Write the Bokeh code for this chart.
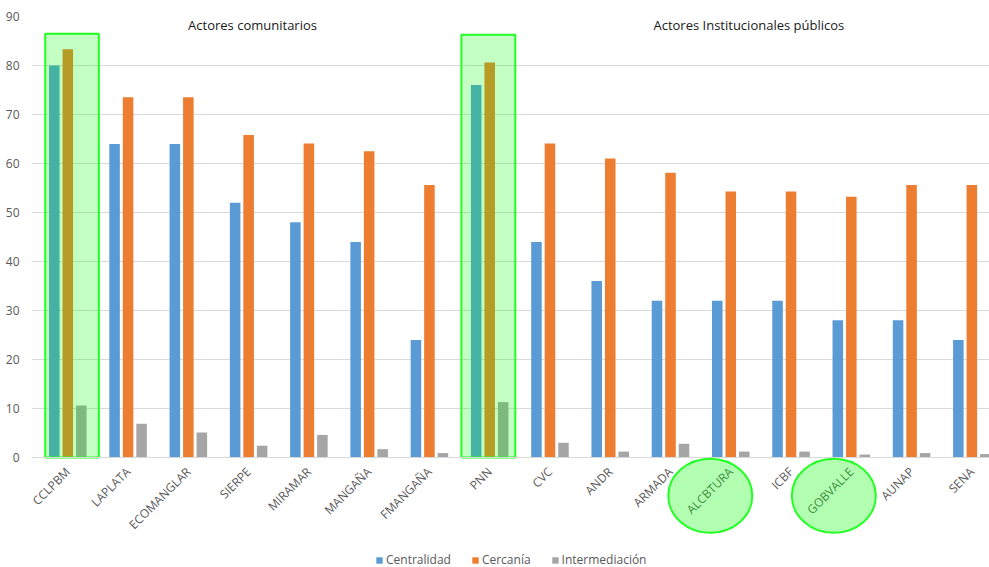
from math import pi
from bokeh.plotting import figure
from bokeh.models import (ColumnDataSource, Range1d, FixedTicker, Legend, LegendItem,
                          Label)
from bokeh.transform import dodge
from bokeh.embed import file_html
from bokeh.resources import INLINE

# ---------------- data ----------------
actors = ["CCLPBM", "LAPLATA", "ECOMANGLAR", "SIERPE", "MIRAMAR", "MANGAÑA", "FMANGAÑA",
          "PNN", "CVC", "ANDR", "ARMADA", "ALCBTURA", "ICBF", "GOBVALLE", "AUNAP", "SENA"]
centralidad = [80, 64, 64, 52, 48, 44, 24, 76, 44, 36, 32, 32, 32, 28, 28, 24]
cercania = [83.3, 73.5, 73.5, 65.8, 64.1, 62.5, 55.6, 80.6, 64.1, 61.0, 58.1, 54.3, 54.3,
            53.2, 55.6, 55.6]
intermediacion = [10.6, 6.9, 5.1, 2.4, 4.6, 1.7, 0.9, 11.3, 3.0, 1.2, 2.8, 1.2, 1.2, 0.6,
                  0.9, 0.7]
series_names = ["Centralidad", "Cercanía", "Intermediación"]
group_titles = ["Actores comunitarios", "Actores Institucionales públicos"]
highlight_boxes = ["CCLPBM", "PNN"]
highlight_labels = ["ALCBTURA", "GOBVALLE"]
y_ticks = [0, 10, 20, 30, 40, 50, 60, 70, 80, 90]

# ---------------- styles ----------------
COLORS = ["#5B9BD5", "#ED7D31", "#A5A5A5"]
FONT = "Open Sans"
GRID = "#D9D9D9"
TXT = "#595959"
GREEN = "#22FF22"

idx = list(range(len(actors)))
src = ColumnDataSource(dict(idx=idx, c=centralidad, k=cercania, i=intermediacion))

p = figure(width=989, height=567, output_backend="svg", toolbar_location=None,
           x_range=Range1d(-0.6026, 15.293), y_range=Range1d(-22.45, 90),
           min_border_left=31, min_border_right=0, min_border_top=16, min_border_bottom=0)
p.outline_line_color = None
p.background_fill_color = "white"
p.border_fill_color = "white"

off = 0.224
bw = 0.175
r1 = p.vbar(x=dodge("idx", -off, range=p.x_range), top="c", width=bw, source=src,
            fill_color=COLORS[0], line_color=None)
r2 = p.vbar(x=dodge("idx", 0, range=p.x_range), top="k", width=bw, source=src,
            fill_color=COLORS[1], line_color=None)
r3 = p.vbar(x=dodge("idx", off, range=p.x_range), top="i", width=bw, source=src,
            fill_color=COLORS[2], line_color=None)

# highlight boxes around categories
box_offsets = [(-0.375, 0.515, 86.5), (-0.47, 0.425, 86.3)]
for name, (lo, hi, top) in zip(highlight_boxes, box_offsets):
    j = actors.index(name)
    p.quad(left=[j + lo], right=[j + hi], bottom=[0], top=[top],
           fill_color="#00FF00", fill_alpha=0.23, line_color=GREEN, line_width=2)

# ellipses around x labels
ell_offsets = [-0.34, -0.29]
for name, dx in zip(highlight_labels, ell_offsets):
    j = actors.index(name)
    e = p.ellipse(x=[j + dx], y=[-7.8], width=84, height=74, width_units="screen",
                  height_units="screen", fill_color="#00FF00", fill_alpha=0.30,
                  line_color=GREEN, line_width=2)
    e.level = "overlay"

# axes
p.xaxis.ticker = FixedTicker(ticks=idx)
p.xaxis.major_label_overrides = {i: a for i, a in zip(idx, actors)}
p.xaxis.fixed_location = 0
p.xaxis.major_label_orientation = pi / 4
p.xaxis.axis_line_color = GRID
p.xaxis.major_tick_line_color = None
p.xaxis.minor_tick_line_color = None
p.xaxis.major_label_text_font = FONT
p.xaxis.major_label_text_font_size = "12px"
p.xaxis.major_label_text_color = TXT
p.xaxis.major_label_standoff = 6

p.yaxis.ticker = FixedTicker(ticks=y_ticks)
p.yaxis.axis_line_color = None
p.yaxis.major_tick_line_color = None
p.yaxis.minor_tick_line_color = None
p.yaxis.major_label_text_font = FONT
p.yaxis.major_label_text_font_size = "12px"
p.yaxis.major_label_text_color = TXT
p.yaxis.major_label_standoff = 6

p.ygrid.ticker = FixedTicker(ticks=y_ticks)
p.ygrid.grid_line_color = GRID
p.xgrid.grid_line_color = None

# group titles
for t, x in zip(group_titles, [3.065, 11.30]):
    p.add_layout(Label(x=x, y=88.2, text=t, text_align="center", text_baseline="middle",
                       text_font=FONT, text_font_size="13px", text_color="#1a1a1a"))

legend = Legend(items=[LegendItem(label=series_names[0], renderers=[r1]),
                       LegendItem(label=series_names[1], renderers=[r2]),
                       LegendItem(label=series_names[2], renderers=[r3])],
                orientation="horizontal", location=(344, -1), margin=0, padding=0,
                spacing=20, label_standoff=3, glyph_width=8, glyph_height=8,
                label_height=8, label_text_font=FONT, label_text_font_size="12px",
                label_text_color=TXT, background_fill_alpha=0, border_line_color=None)
p.add_layout(legend, "center")

open("out.html", "w").write(file_html(p, INLINE))
